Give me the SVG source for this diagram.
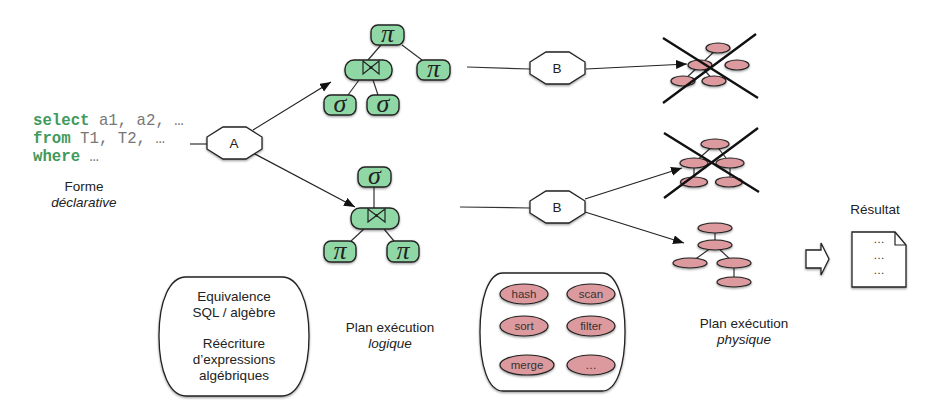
<svg xmlns="http://www.w3.org/2000/svg" width="935" height="411" viewBox="0 0 935 411">
<style>
text{font-family:"Liberation Sans",Arial,sans-serif;font-size:13.5px;fill:#222;text-anchor:middle}
.i{font-style:italic}
.code{font-family:"Liberation Mono","Courier New",monospace;font-size:15.7px;fill:#777;text-anchor:start}
.kw{font-weight:bold;fill:#3f9a5c}
.g{fill:#8fd8a6;stroke:#222;stroke-width:1.4;filter:url(#sh)}
.r{fill:#dc9a9e;stroke:#222;stroke-width:1.2;filter:url(#sh)}
.w{fill:#fff;stroke:#222;stroke-width:1.3;filter:url(#sh)}
.l{fill:none;stroke:#333;stroke-width:1.2}
.a{fill:none;stroke:#222;stroke-width:1.2;marker-end:url(#ah)}
.x{fill:none;stroke:#111;stroke-width:2.4}
.sym{font-family:"Liberation Serif","DejaVu Serif",serif;font-style:italic;font-size:26px;fill:#222}
.bt{fill:none;stroke:#222;stroke-width:1.2}
.s{font-size:11.5px;fill:#333}
</style>
<defs>
<filter id="sh" x="-20%" y="-30%" width="140%" height="170%"><feDropShadow dx="0" dy="1.2" stdDeviation="0.9" flood-color="#000" flood-opacity="0.4"/></filter>
<marker id="ah" markerUnits="userSpaceOnUse" markerWidth="12" markerHeight="10" refX="11" refY="4.500" orient="auto"><path d="M0,0L11,4.500L0,9Z" fill="#111"/></marker>
</defs>
<g id="connectors">
<path class="l" d="M190,144H207"/>
<path class="a" d="M253,130L331,82"/>
<path class="a" d="M253,153L355,207"/>
<path class="l" d="M381,45L368,60M402,45L422,60M359,80L348,95M373,80L378,95"/>
<path class="l" d="M374,187V208M364,229L351,241M384,229L394,241"/>
<path class="l" d="M467,67L530,69M460,207L530,208"/>
<path class="a" d="M586,69L687,64"/>
<path class="a" d="M585,199L682,168"/>
<path class="a" d="M585,212L684,243"/>
<path class="l" d="M718,48L700,65M700,65L683,81M700,65L714,81"/>
<path class="l" d="M715,144L694,163M715,144L730,163M694,163V182M730,163V182"/>
<path class="l" d="M715,228V245M715,245L690,263M715,245L734,263M734,263V282"/>
</g>
<g id="code">
<text class="code" x="33" y="125"><tspan class="kw">select</tspan> a1, a2, …</text>
<text class="code" x="33" y="143"><tspan class="kw">from</tspan> T1, T2, …</text>
<text class="code" x="33" y="161"><tspan class="kw">where</tspan> …</text>
</g>
<g id="forme"><text x="84" y="191">Forme</text><text class="i" x="84" y="207">déclarative</text></g>
<g id="node-A"><path class="w" d="M223,127H246L262,137V149L246,159H223L207,149V137Z"/><text x="234" y="148">A</text></g>
<g id="node-B1"><path class="w" d="M546,52H569L585,62V74L569,84H546L530,74V62Z"/><text x="557" y="73">B</text></g>
<g id="node-B2"><path class="w" d="M546,191H569L585,201V213L569,223H546L530,213V201Z"/><text x="557" y="212">B</text></g>
<g id="plan-logique-1">
<rect class="g" x="371" y="25" width="33" height="20" rx="7"/><text class="sym" x="387.500" y="42">π</text>
<rect class="g" x="345" y="60" width="47" height="20" rx="9"/><path class="bt" d="M363,61V74L379,61V74Z"/><circle cx="371" cy="67.500" r="1.500" fill="#222"/>
<rect class="g" x="417" y="60" width="33" height="20" rx="7"/><text class="sym" x="433.500" y="77">π</text>
<rect class="g" x="324" y="95" width="32" height="20" rx="7"/><text class="sym" x="340" y="112">σ</text>
<rect class="g" x="367" y="95" width="32" height="20" rx="7"/><text class="sym" x="383" y="112">σ</text>
</g>
<g id="plan-logique-2">
<rect class="g" x="358" y="167" width="33" height="20" rx="7"/><text class="sym" x="374.500" y="184">σ</text>
<rect class="g" x="351" y="208" width="48" height="21" rx="9"/><path class="bt" d="M368,209V222L385,209V222Z"/><circle cx="376.500" cy="215.500" r="1.500" fill="#222"/>
<rect class="g" x="324" y="241" width="32" height="21" rx="7"/><text class="sym" x="340" y="259">π</text>
<rect class="g" x="387" y="241" width="32" height="21" rx="7"/><text class="sym" x="403" y="259">π</text>
</g>
<g id="plan-physique-1">
<ellipse class="r" cx="718" cy="48" rx="12" ry="5"/><ellipse class="r" cx="700" cy="65" rx="12" ry="5"/><ellipse class="r" cx="737" cy="65" rx="12" ry="5"/><ellipse class="r" cx="683" cy="81" rx="12" ry="5"/><ellipse class="r" cx="714" cy="81" rx="12" ry="5"/>
<path class="x" d="M663,38L758,98M663,103L756,34"/>
</g>
<g id="plan-physique-2">
<ellipse class="r" cx="715" cy="144" rx="14" ry="5"/><ellipse class="r" cx="694" cy="163" rx="14" ry="5"/><ellipse class="r" cx="730" cy="163" rx="14" ry="5"/><ellipse class="r" cx="694" cy="182" rx="13.500" ry="5"/><ellipse class="r" cx="729" cy="182" rx="13.500" ry="5"/>
<path class="x" d="M664,133L759,192M664,198L758,128"/>
</g>
<g id="plan-physique-3">
<ellipse class="r" cx="715" cy="228" rx="17" ry="5"/><ellipse class="r" cx="715" cy="245" rx="17" ry="5"/><ellipse class="r" cx="690" cy="263" rx="17" ry="5"/><ellipse class="r" cx="734" cy="263" rx="17" ry="5"/><ellipse class="r" cx="734" cy="282" rx="17" ry="5"/>
</g>
<g id="equivalence">
<path class="w" d="M186,277H282C298,277 309,300 309,336C309,372 298,396 282,396H186C170,396 159,372 159,336C159,300 170,277 186,277Z"/>
<text x="234" y="301">Equivalence</text><text x="234" y="317">SQL / algèbre</text>
<text x="234" y="348">Réécriture</text><text x="234" y="364">d’expressions</text><text x="234" y="380">algébriques</text>
</g>
<g id="label-logique"><text x="390" y="332">Plan exécution</text><text class="i" x="390" y="348">logique</text></g>
<g id="operateurs">
<path class="w" d="M503,273H602C617,273 625,300 625,332C625,365 617,391 602,391H503C488,391 480,365 480,332C480,300 488,273 503,273Z"/>
<ellipse class="r" cx="524" cy="294" rx="24" ry="10"/><text class="s" x="524" y="298">hash</text>
<ellipse class="r" cx="591" cy="294" rx="24" ry="10"/><text class="s" x="591" y="298">scan</text>
<ellipse class="r" cx="524" cy="326" rx="24" ry="10"/><text class="s" x="524" y="330">sort</text>
<ellipse class="r" cx="591" cy="326" rx="24" ry="10"/><text class="s" x="591" y="330">filter</text>
<ellipse class="r" cx="527" cy="365" rx="27" ry="10"/><text class="s" x="527" y="369">merge</text>
<ellipse class="r" cx="591" cy="365" rx="24" ry="10"/><text class="s" x="591" y="369">…</text>
</g>
<g id="label-physique"><text x="744" y="328">Plan exécution</text><text class="i" x="744" y="344">physique</text></g>
<g id="fleche"><path class="w" d="M806,250H821V243L829,259L821,275V268H806Z"/></g>
<g id="resultat">
<text x="875" y="214">Résultat</text>
<path class="w" d="M852,232H895L906,245V287H852Z"/><path class="bt" d="M895,232V245H906"/>
<text class="s" x="879" y="243">…</text><text class="s" x="879" y="259">…</text><text class="s" x="879" y="274">…</text>
</g>
</svg>
